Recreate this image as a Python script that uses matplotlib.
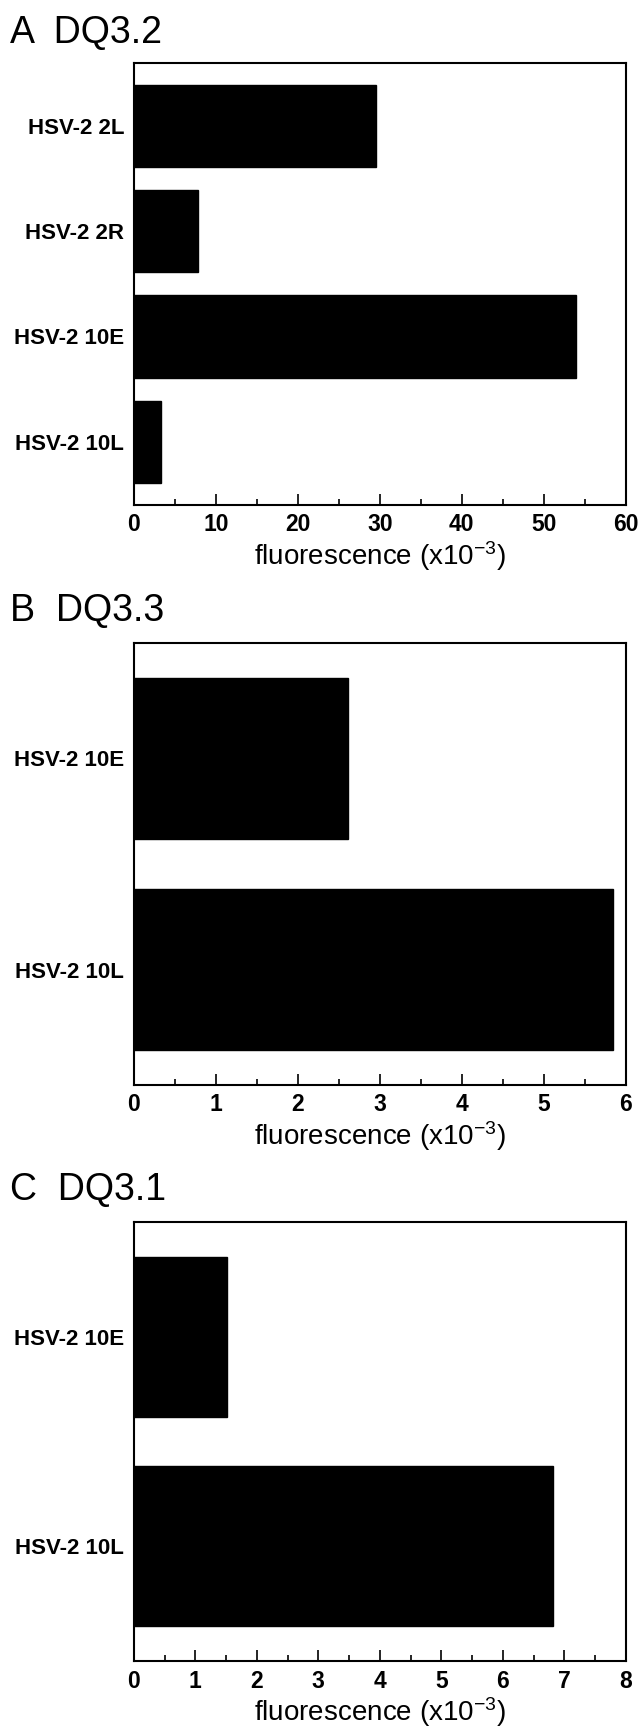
import matplotlib
matplotlib.use("Agg")
import matplotlib.pyplot as plt
from matplotlib.ticker import MultipleLocator

plt.rcParams["font.family"] = ["Liberation Sans", "DejaVu Sans"]
plt.rcParams["mathtext.default"] = "regular"

# panel A: DQ3.2
a_labels = ["HSV-2 2L", "HSV-2 2R", "HSV-2 10E", "HSV-2 10L"]
a_values = [29.5, 7.85, 53.9, 3.3]

# panel B: DQ3.3
b_labels = ["HSV-2 10E", "HSV-2 10L"]
b_values = [2.61, 5.84]

# panel C: DQ3.1
c_labels = ["HSV-2 10E", "HSV-2 10L"]
c_values = [1.52, 6.82]

panels = [
    ("A  DQ3.2", a_labels, a_values, 60, 10, 5, 0.78, 0.6, [0.209, 0.7079, 0.769, 0.2559], 43),
    ("B  DQ3.3", b_labels, b_values, 6, 1, 0.5, 0.763, 0.547, [0.209, 0.3725, 0.769, 0.2556], 621),
    ("C  DQ3.1", c_labels, c_values, 8, 1, 0.5, 0.763, 0.55, [0.209, 0.0391, 0.769, 0.2544], 1200),
]


def main() -> None:
    fig = plt.figure(figsize=(6.4, 17.29), dpi=100)
    for title, labels, values, xmax, major, minor, h, margin, rect, base in panels:
        ax = fig.add_axes(rect)
        y = list(range(len(labels)))
        ax.barh(y, values, height=h, color="black", edgecolor="black")
        ax.set_ylim(len(labels) - 1 + margin, -margin)
        ax.set_xlim(0, xmax)
        ax.set_yticks(y)
        ax.set_yticklabels(labels, fontsize=16, fontweight="bold")
        ax.xaxis.set_major_locator(MultipleLocator(major))
        ax.xaxis.set_minor_locator(MultipleLocator(minor))
        for t in ax.get_xticklabels():
            t.set_fontweight("bold")
        ax.tick_params(axis="x", which="major", direction="in", length=8, width=1.2,
                       labelsize=16.5, pad=6, top=False)
        ax.tick_params(axis="x", which="minor", direction="in", length=4, width=1.2, top=False)
        ax.tick_params(axis="y", length=0, pad=7)
        for s in ax.spines.values():
            s.set_linewidth(1.5)
        ax.set_xlabel("fluorescence (x10$^{-3}$)", fontsize=20, labelpad=2)
        fig.text(10 / 640, 1 - base / 1729, title, fontsize=27, va="baseline", ha="left")
    fig.savefig("out.png", dpi=100)


if __name__ == "__main__":
    main()
